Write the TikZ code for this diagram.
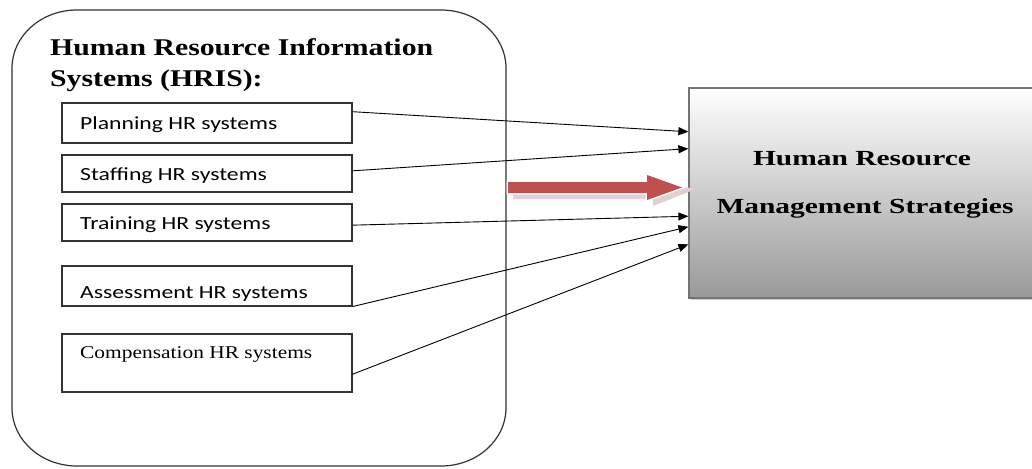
\documentclass[tikz,border=0pt]{standalone}
\usepackage{fontspec}
\usepackage{graphicx}
\setmainfont{Liberation Serif}
\newfontfamily\calfont{Carlito}
\usetikzlibrary{calc,arrows.meta,shadows}
\newcommand{\sx}[2]{\scalebox{#1}[1]{#2}}
\definecolor{arrowred}{HTML}{C0504D}
\definecolor{arrowshadow}{HTML}{E3CFCF}
\begin{document}
\begin{tikzpicture}[x=1pt,y=-1pt,
  outerline/.style={draw=black!80, line width=1.2pt},
  hrbox/.style={draw=black!80, line width=1.1pt, minimum width=290pt, inner sep=0pt, fill=white},
  btext/.style={anchor=base west, inner sep=0pt, font=\calfont\fontsize{18.5}{20}\selectfont},
  ctext/.style={anchor=base west, inner sep=0pt, font=\fontsize{18}{20}\selectfont},
  ttext/.style={anchor=base west, inner sep=0pt, font=\fontsize{24}{26}\selectfont\bfseries},
  rtext/.style={anchor=base, inner sep=0pt, font=\fontsize{21.5}{24}\selectfont\bfseries},
  conn/.style={draw=black, line width=0.9pt, -{Triangle[length=10pt,width=8pt]}},
  hrmbox/.style={draw=black!55, line width=1.2pt, top color=white, bottom color=black!40,
     minimum width=347pt, minimum height=210pt, inner sep=0pt,
     drop shadow={shadow xshift=1.5pt, shadow yshift=-2pt, fill=black!30, opacity=0.6}}
]
\useasboundingbox (0,0) rectangle (1032,468);
\clip (0,0) rectangle (1032,468);

% outer container
\draw[outerline] (12,68) .. controls (12,36) and (41.1,10) .. (77,10) -- (441,10)
  .. controls (476.9,10) and (506,36) .. (506,68) -- (506,408)
  .. controls (506,440) and (476.9,466) .. (441,466) -- (77,466)
  .. controls (41.1,466) and (12,440) .. (12,408) -- cycle;

\node[ttext] (title1) at (50,56) {\sx{1.24}{Human Resource Information}};
\node[ttext] (title2) at (50,87) {\sx{1.24}{Systems (HRIS):}};

% boxes
\node[hrbox, minimum height=40pt] (b1) at (207,123) {};
\node[hrbox, minimum height=37pt] (b2) at (207,173.5) {};
\node[hrbox, minimum height=37pt] (b3) at (207,222.5) {};
\node[hrbox, minimum height=40pt] (b4) at (207,286) {};
\node[hrbox, minimum height=58pt] (b5) at (207,363) {};

\node[btext] (t1) at (80,129) {\sx{1.28}{Planning HR systems}};
\node[btext] (t2) at (80,180) {\sx{1.28}{Staffing HR systems}};
\node[btext] (t3) at (80,229) {\sx{1.28}{Training HR systems}};
\node[btext] (t4) at (80,298) {\sx{1.28}{Assessment HR systems}};
\node[ctext] (t5) at (80,358) {\sx{1.19}{Compensation HR systems}};

% right box
\node[hrmbox] (hrm) at (862.5,193) {};
\node[rtext] (h1) at (862,165) {\sx{1.37}{Human Resource}};
\node[rtext] (h2) at (865,213) {\sx{1.37}{Management Strategies}};

% connectors
\draw[conn] ($(b1.north east)!0.225!(b1.south east)$) -- ($(hrm.north west)!0.21!(hrm.south west)$);
\draw[conn] ($(b2.north east)!0.43!(b2.south east)$) -- ($(hrm.north west)!0.29!(hrm.south west)$);
\draw[conn] ($(b3.north east)!0.57!(b3.south east)$) -- ($(hrm.north west)!0.61!(hrm.south west)$);
\draw[conn] (b4.south east) -- ($(hrm.north west)!0.66!(hrm.south west)$);
\draw[conn] ($(b5.north east)!0.69!(b5.south east)$) -- ($(hrm.north west)!0.743!(hrm.south west)$);

% big red arrow
\fill[arrowshadow] (513,188) -- (653,188) -- (653,181) -- (696,189) -- (653,206) -- (653,199) -- (513,199) -- cycle;
\draw[white, line width=3pt, line join=miter, fill=white] (508,182) -- (647,182) -- (647,175) -- (682,187.5) -- (647,200) -- (647,193) -- (508,193) -- cycle;
\fill[arrowred] (508,182) -- (647,182) -- (647,175) -- (682,187.5) -- (647,200) -- (647,193) -- (508,193) -- cycle;
\end{tikzpicture}
\end{document}
